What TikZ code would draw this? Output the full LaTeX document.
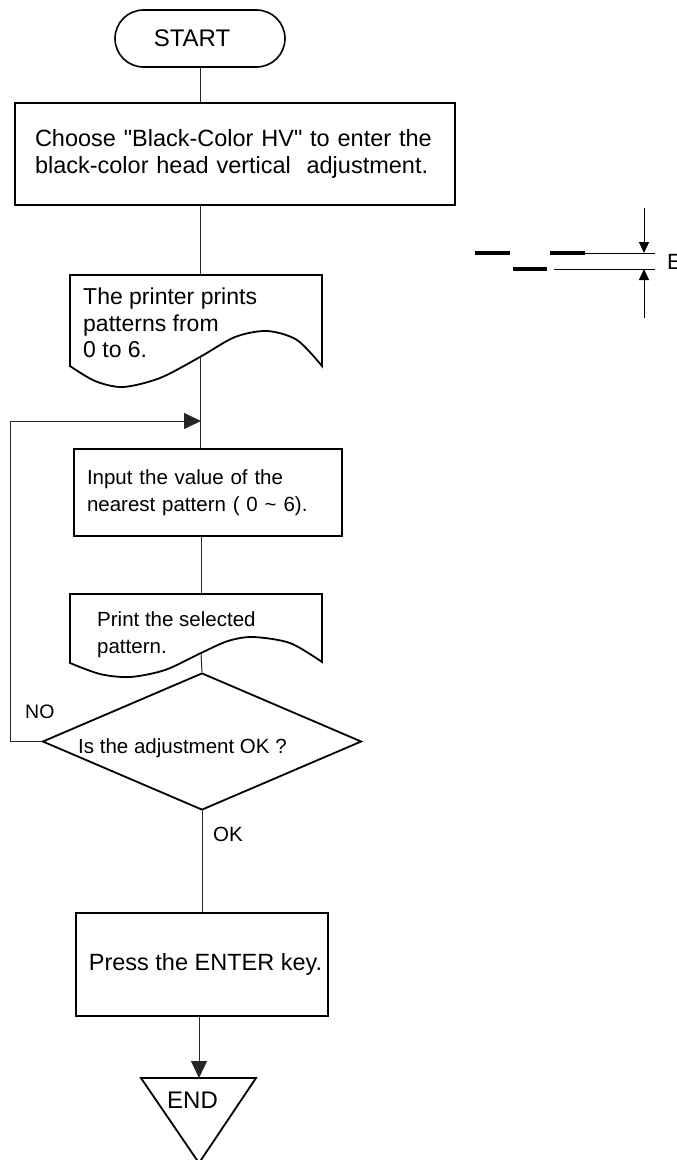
\documentclass[tikz,border=0pt]{standalone}
\usepackage{fontspec}
\setmainfont{Liberation Sans}[Ligatures=TeXOff]
\usetikzlibrary{arrows.meta,shapes.geometric,shapes.misc}
\tikzset{
  outline/.style={line width=1.8pt},
  box/.style={draw, outline, rectangle, inner sep=0pt, align=left},
  term/.style={draw, line width=1.6pt, rounded rectangle, minimum width=170pt, minimum height=57pt, inner sep=0pt},
  conn/.style={line width=1pt, black!85},
  arr/.style={conn, -{Triangle[length=17pt,width=16pt]}},
  dimarr/.style={line width=1pt, -{Triangle[length=11pt,width=10pt]}},
  lbl/.style={inner sep=0pt},
  fA/.style={font=\fontsize{23.5}{27}\selectfont},
  fB/.style={font=\fontsize{20.5}{27}\selectfont},
  fDoc/.style={font=\fontsize{23}{26.5}\selectfont},
  thickdash/.style={line width=3.3pt},
}
\begin{document}
\begin{tikzpicture}[x=1pt,y=-1pt]
\useasboundingbox (0,0) rectangle (677,1160);

% START
\node[term, font=\fontsize{24}{28}\selectfont] (start) at (200,38.5) {START\hspace*{16pt}};

% Box 1
\node[box, fA, minimum width=440pt, minimum height=102pt, text width=400pt] (box1) at (235,154)
  {Choose "Black-Color HV" to enter the\\black-color head vertical\ \ adjustment.};

% Document 2
\coordinate (d2top) at (200,275);
\coordinate (d2bot) at (200,357);
\draw[outline] plot[smooth] coordinates {(322,366) (297,340) (267,331) (235,337) (200,357) (160,378) (123,387) (95,381) (70,366)} -- (70,275) -- (322,275) -- cycle;
\node[lbl, fDoc, anchor=north west, align=left] (t2) at (83,288) {The printer prints\\patterns from\\0 to 6.};

% Loop arrow target
\coordinate (loopin) at (201,421);
\coordinate (loopc) at (10,421);

% Box 3
\node[box, fB, minimum width=268pt, minimum height=87pt, text width=242pt] (box3) at (208,492.5)
  {Input the value of the\\nearest pattern ( 0 \char`\~{} 6).};

% Document 4
\coordinate (d4top) at (201,594);
\coordinate (d4bot) at (201,653);
\draw[outline] plot[smooth] coordinates {(322,662) (290,643) (253,637) (228,641) (201,653) (165,670) (130,677) (100,674) (70,663)} -- (70,594) -- (322,594) -- cycle;
\node[lbl, fB, anchor=north west, align=left] (t4) at (97,611) {Print the selected\\pattern.};

% Decision
\node[draw, outline, diamond, minimum width=319pt, minimum height=137pt, inner sep=0pt] (dia) at (202,741.5) {};
\node[lbl, anchor=base west, font=\fontsize{20.5}{24}\selectfont] (q) at (78,753) {Is the adjustment OK ?};
\node[lbl, anchor=base west, font=\fontsize{19.5}{22}\selectfont] (no) at (25,718) {NO};
\node[lbl, anchor=base west, font=\fontsize{20.5}{24}\selectfont] (ok) at (213,841) {OK};

% Box 5
\node[box, fA, minimum width=252pt, minimum height=103pt] (box5) at (202,964.5)
  {\hspace*{7pt}Press the ENTER key.};

% END
\coordinate (endtop) at (199,1078);
\coordinate (endl) at (141,1078);
\coordinate (endr) at (256,1078);
\coordinate (endb) at (199,1163);
\draw[outline] (endl) -- (endr) -- (endb) -- cycle;
\node[lbl, font=\fontsize{24}{28}\selectfont] (endt) at (192.5,1100.5) {END};

% Connectors
\draw[conn] (start.south) -- (start.south |- box1.north);
\draw[conn] (box1.south -| d2top) -- (d2top);
\draw[conn] (d2bot) -- (box3.north -| d2bot);
\draw[conn] (box3.south -| d4top) -- (d4top);
\draw[conn] (d4bot) -- (dia.north);
\draw[arr] (dia.west) -- (dia.west -| loopc) -- (loopc) -- (loopin);
\draw[conn] (dia.south) -- (dia.south |- box5.north);
\draw[arr] (box5.south -| endtop) -- (endtop);

% E dimension
\coordinate (a1) at (475,253); \coordinate (a2) at (510,253);
\coordinate (b1) at (513,269); \coordinate (b2) at (547,269);
\coordinate (c1) at (550,253); \coordinate (c2) at (585,253);
\coordinate (e1) at (655,253); \coordinate (e2) at (554,269); \coordinate (e3) at (655,269);
\coordinate (dtop) at (644,208); \coordinate (dt) at (644,253);
\coordinate (dbot) at (644,318); \coordinate (db) at (644,269);
\draw[thickdash] (a1) -- (a2);
\draw[thickdash] (b1) -- (b2);
\draw[thickdash] (c1) -- (c2);
\draw[line width=0.9pt] (c2) -- (e1);
\draw[line width=0.9pt] (e2) -- (e3);
\draw[dimarr] (dtop) -- (dt);
\draw[dimarr] (dbot) -- (db);
\node[lbl, anchor=base west, font=\fontsize{22}{26}\selectfont] (elbl) at (667,269) {E};
\end{tikzpicture}
\end{document}
